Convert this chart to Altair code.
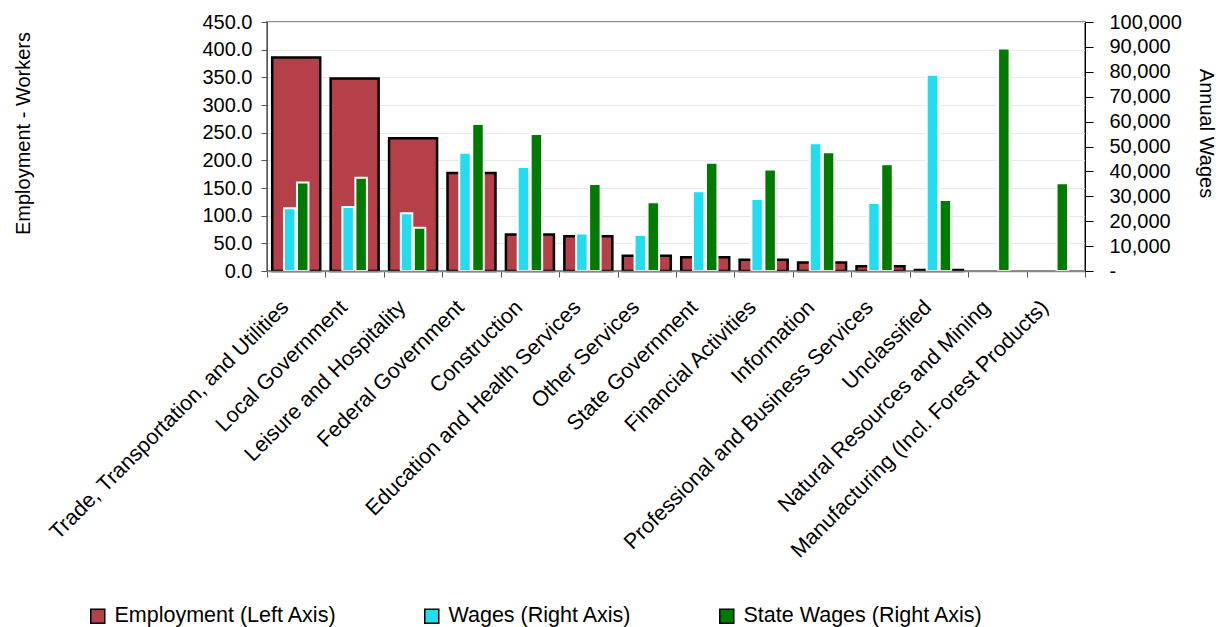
import altair as alt
import pandas as pd

categories = [
    "Trade, Transportation, and Utilities",
    "Local Government",
    "Leisure and Hospitality",
    "Federal Government",
    "Construction",
    "Education and Health Services",
    "Other Services",
    "State Government",
    "Financial Activities",
    "Information",
    "Professional and Business Services",
    "Unclassified",
    "Natural Resources and Mining",
    "Manufacturing (Incl. Forest Products)",
]
employment = [386, 348, 240, 177, 66, 63, 27.5, 25, 20.5, 15.5, 8.5, 2.0, None, None]
wages = [25200, 25700, 23200, 47500, 41800, 15100, 14500, 32000, 28900, 51300, 27300, 78800, None, None]
state_wages = [35500, 37500, 17400, 59000, 55000, 34900, 27600, 43500, 40800, 47700, 42900, 28500, 89400, 35200]

series_names = ["Employment (Left Axis)", "Wages (Right Axis)", "State Wages (Right Axis)"]
series_colors = ["#B5404A", "#22DDF0", "#007A00"]

df = pd.DataFrame({
    "Category": categories,
    "Employment": employment,
    "Wages": wages,
    "StateWages": state_wages,
})

FONT = "Liberation Sans"
FS = 20

x_enc = alt.X(
    "Category:N",
    sort=categories,
    scale=alt.Scale(paddingInner=0, paddingOuter=0),
    axis=alt.Axis(
        title=None,
        labelAngle=-45,
        labelAlign="right",
        labelBaseline="middle",
        labelFontSize=21.5,
        labelLimit=600,
        labelPadding=27,
        labelOffset=-11,
        tickBand="extent",
        tickSize=6,
        tickColor="#555555",
        domainColor="#888888",
        domainWidth=1.5,
        labelColor="black",
        zindex=1,
    ),
)

color_enc = alt.Color(
    "series:N",
    scale=alt.Scale(domain=series_names, range=series_colors),
    legend=alt.Legend(
        title=None,
        orient="none",
        legendX=-180,
        legendY=583,
        direction="horizontal",
        labelFontSize=21.5,
        labelColor="black",
        labelLimit=400,
        symbolType="square",
        symbolSize=196,
        columnPadding=84,
        labelOffset=6,
    ),
)

emp = alt.Chart(df).transform_calculate(series=f"'{series_names[0]}'").mark_bar(
    width=48, stroke="black", strokeWidth=2.5
).encode(
    x=x_enc,
    y=alt.Y(
        "Employment:Q",
        scale=alt.Scale(domain=[0, 450], nice=False),
        axis=alt.Axis(
            title="Employment - Workers",
            titleFontSize=FS,
            titleFontWeight="normal",
            titleColor="black",
            titlePadding=168,
            titleY=111,
            values=list(range(0, 451, 50)),
            format=".1f",
            labelFontSize=FS,
            labelColor="black",
            labelPadding=9,
            tickSize=6,
            tickColor="#555555",
            domainColor="#555555",
            gridColor="#E8E8E8",
            grid=True,
        ),
    ),
    color=color_enc,
)

wage_axis = alt.Axis(
    title="Annual Wages",
    titleFontSize=FS,
    titleFontWeight="normal",
    titleColor="black",
    titlePadding=14,
    titleY=111,
    orient="right",
    values=list(range(0, 100001, 10000)),
    labelExpr="datum.value == 0 ? '-' : format(datum.value, ',')",
    labelFontSize=FS,
    labelColor="black",
    labelPadding=16,
    tickSize=8,
    tickColor="black",
    domainColor="black",
    grid=False,
    zindex=1,
)

wage_scale = alt.Scale(domain=[0, 100000], nice=False)

cyan = alt.Chart(df).transform_calculate(series=f"'{series_names[1]}'").mark_bar(
    width=11.5, xOffset=-6.5, stroke="white", strokeWidth=2
).encode(
    x=x_enc,
    y=alt.Y("Wages:Q", scale=wage_scale, axis=wage_axis),
    color=color_enc,
)

green = alt.Chart(df).transform_calculate(series=f"'{series_names[2]}'").mark_bar(
    width=11.5, xOffset=6.5, stroke="white", strokeWidth=2
).encode(
    x=x_enc,
    y=alt.Y("StateWages:Q", scale=wage_scale, axis=None),
    color=color_enc,
)

chart = alt.layer(emp, cyan, green).resolve_scale(y="independent").properties(
    width=818,
    height=249,
    padding={"left": 5, "top": 4, "right": 2, "bottom": 0},
).configure(font=FONT).configure_view(stroke="#8C8C8C", strokeWidth=2)

chart.save("out.html", embed_options={"renderer": "svg", "actions": False})
